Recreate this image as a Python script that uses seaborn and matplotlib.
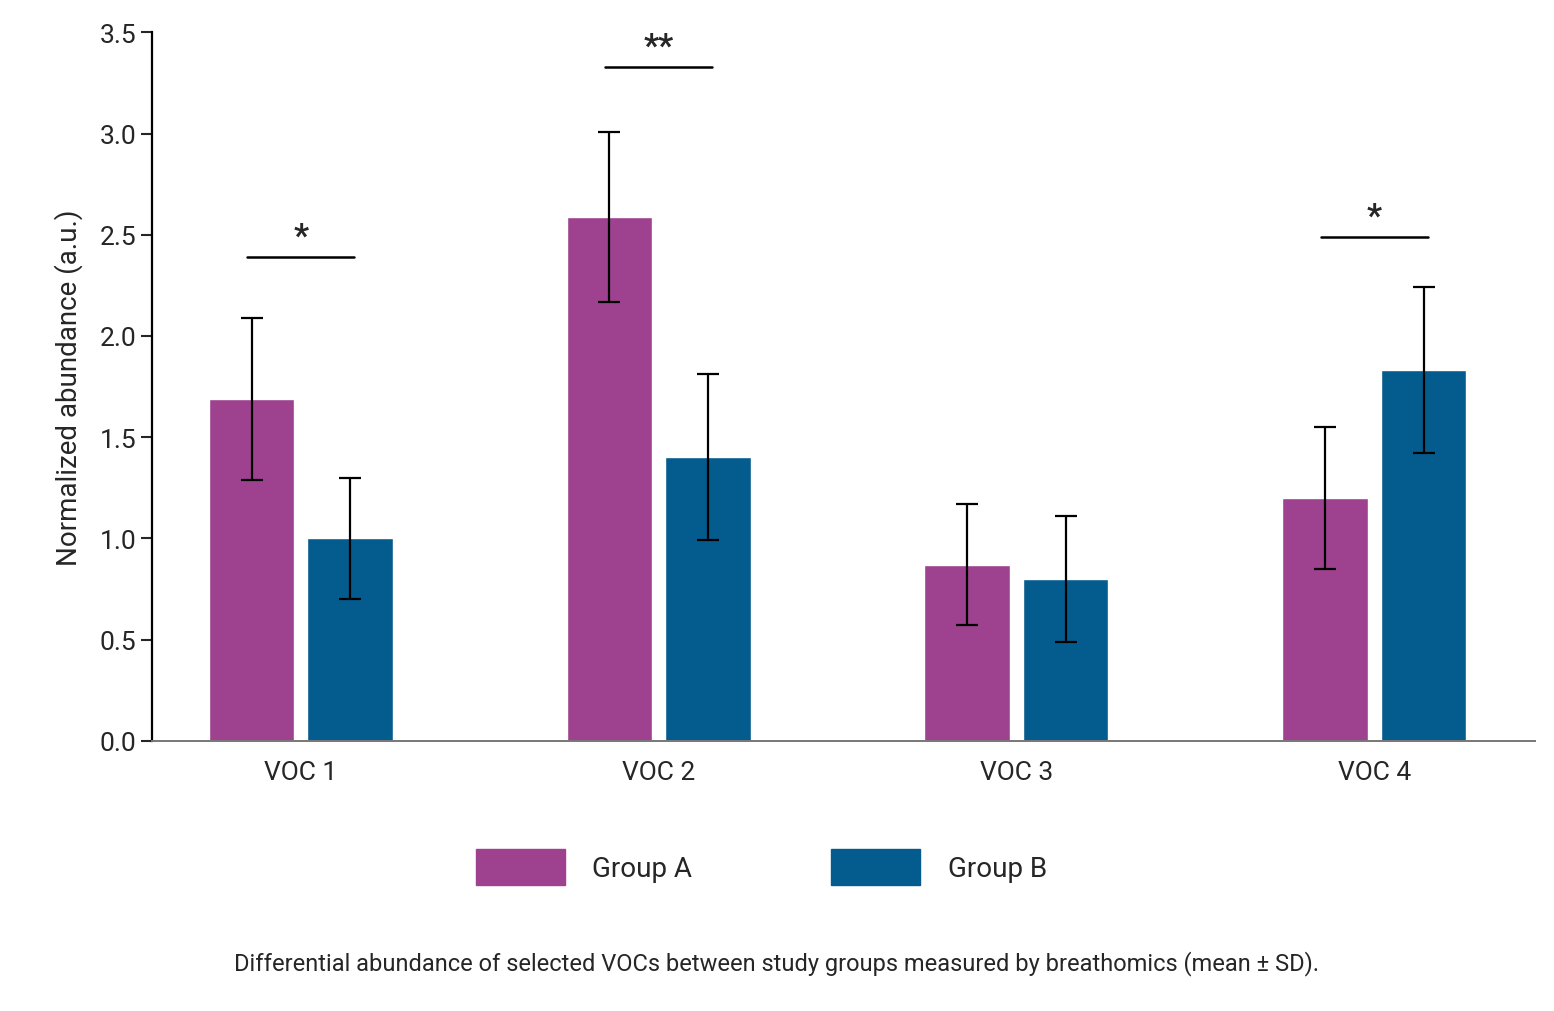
import pandas as pd
import matplotlib.pyplot as plt
import seaborn as sns

# ---- data ----
vocs = ["VOC 1", "VOC 2", "VOC 3", "VOC 4"]
groups = ["Group A", "Group B"]
mean_a = [1.69, 2.59, 0.87, 1.20]
mean_b = [1.00, 1.40, 0.80, 1.83]
sd_a = [0.40, 0.42, 0.30, 0.35]
sd_b = [0.30, 0.41, 0.31, 0.41]
sig_labels = ["*", "**", "", "*"]
sig_heights = [2.39, 3.33, None, 2.49]
colors = ["#9E418F", "#045C8E"]

df = pd.DataFrame({
    "voc": vocs * 2,
    "group": [groups[0]] * 4 + [groups[1]] * 4,
    "mean": mean_a + mean_b,
    "sd": sd_a + sd_b,
})

sns.set_style("white")
plt.rcParams["font.family"] = ["Roboto", "DejaVu Sans"]

fig = plt.figure(figsize=(15.54, 10.12), dpi=100)
ax = fig.add_axes([0.098, 0.267, 0.89, 0.70])

sns.barplot(data=df, x="voc", y="mean", hue="group", palette=colors,
            width=0.55, gap=0.13, ax=ax, errorbar=None, saturation=1)

# error bars at the centre of each bar (patches ordered by hue, then category)
bars = [p for p in ax.patches if p.get_height() > 0]
for p, (_, row) in zip(bars, df.iterrows()):
    x = p.get_x() + p.get_width() / 2
    ax.errorbar(x, row["mean"], yerr=row["sd"], color="black", capsize=8,
                elinewidth=1.6, capthick=1.6, fmt="none")

# significance brackets
for i, (lab, h) in enumerate(zip(sig_labels, sig_heights)):
    if not lab:
        continue
    ax.plot([i - 0.15, i + 0.15], [h, h], color="black", lw=1.8)
    ax.text(i, h + 0.02, lab, ha="center", va="bottom", fontsize=24,
            fontweight="bold")

ax.set_ylim(0, 3.5)
ax.set_xlim(-0.415, 3.45)
ax.set_yticks([0, 0.5, 1.0, 1.5, 2.0, 2.5, 3.0, 3.5])
ax.set_yticklabels([f"{v:.1f}" for v in ax.get_yticks()])
ax.tick_params(axis="y", labelsize=19, length=8, width=1.5, left=True)
ax.tick_params(axis="x", labelsize=19, length=0, pad=14)
ax.set_xlabel("")
ax.set_ylabel("Normalized abundance (a.u.)", fontsize=20, labelpad=12)
sns.despine(ax=ax)
ax.spines["left"].set_linewidth(1.6)
ax.spines["left"].set_color("black")
ax.spines["bottom"].set_color("#777777")
ax.spines["bottom"].set_linewidth(1.4)

ax.legend_.remove()
handles = [plt.Rectangle((0, 0), 1, 1, color=c) for c in colors]
fig.legend(handles, groups, loc="center", bbox_to_anchor=(0.49, 0.142),
           ncol=2, frameon=False, fontsize=20, handlelength=3.2,
           handleheight=1.6, columnspacing=5, handletextpad=1.0)

fig.text(0.5, 0.048, "Differential abundance of selected VOCs between study "
         "groups measured by breathomics (mean ± SD).", ha="center",
         va="center", fontsize=17)

fig.savefig("out.png", dpi=100)
